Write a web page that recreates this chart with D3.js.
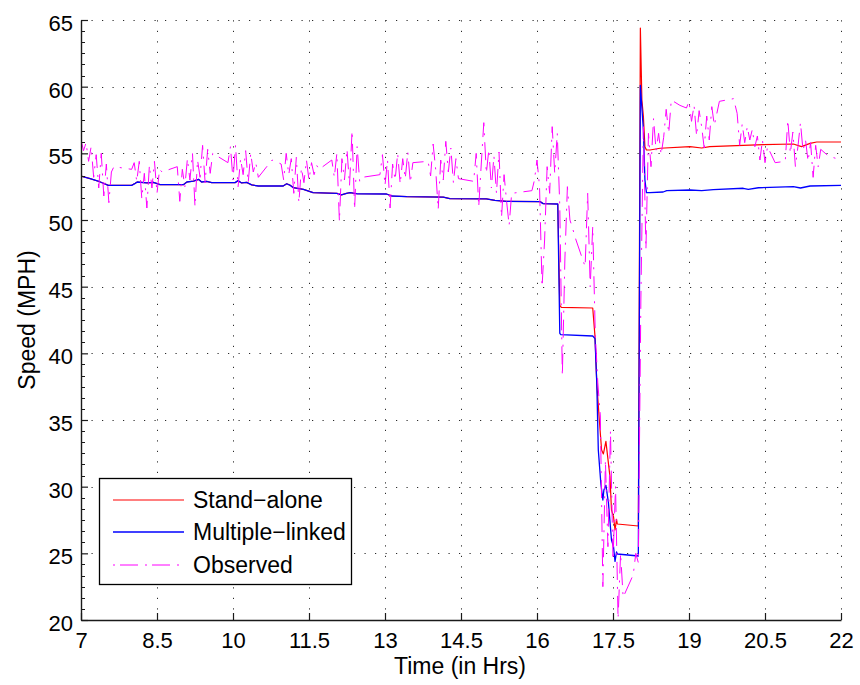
<!DOCTYPE html>
<html>
<head>
<meta charset="utf-8">
<script src="https://cdn.jsdelivr.net/npm/d3@7"></script>
<style>
  body { margin: 0; background: #fff; }
  svg { display: block; font-family: "Liberation Sans", Arial, Helvetica, sans-serif; }
</style>
</head>
<body>
<svg id="chart" width="860" height="685"></svg>
<script>
// ---- Axis ticks ----
const xTickValues = [7, 8.5, 10, 11.5, 13, 14.5, 16, 17.5, 19, 20.5, 22];
const yTickValues = [20, 25, 30, 35, 40, 45, 50, 55, 60, 65];

// ---- Model output, identical for both models until the slowdown ----
const sharedHours = [7.00, 7.18, 7.37, 7.54, 8.00, 8.07, 8.11, 8.30, 8.43, 8.56, 9.02, 9.09, 9.22, 9.32, 9.38, 9.48, 9.58,
  10.04, 10.10, 10.17, 10.27, 10.37, 10.50, 10.99, 11.06, 11.12, 11.19, 11.39, 11.58, 12.05, 12.14, 12.24, 12.31, 12.44,
  13.03, 13.13, 13.43, 14.15, 14.28, 15.00, 15.17, 15.40, 16.06, 16.12, 16.39, 16.41];
const sharedSpeed = [53.3, 53.1, 52.87, 52.6, 52.6, 52.75, 52.85, 52.78, 52.82, 52.65, 52.65, 52.85, 52.92, 53.05, 52.85, 52.9, 52.8,
  52.8, 52.95, 52.78, 52.82, 52.63, 52.55, 52.55, 52.72, 52.62, 52.43, 52.3, 52.05, 52.0, 51.88, 52.0, 52.05, 51.97,
  51.95, 51.8, 51.75, 51.72, 51.6, 51.58, 51.47, 51.4, 51.38, 51.23, 51.2, 51.2];

// ---- Stand-alone model after the slowdown begins ----
const standAloneHours = [16.45, 16.48, 17.10, 17.145, 17.18, 17.23, 17.275, 17.31, 17.36, 17.44, 17.47, 17.51, 17.54, 17.57, 17.585,
  18.00, 18.04, 18.07, 18.10, 18.13, 18.16, 18.23, 18.43, 19.02, 19.25, 19.41, 20.07, 20.47, 21.06, 21.22, 21.39, 21.52, 22.00];
const standAloneSpeed = [43.6, 43.45, 43.4, 41.25, 37.75, 35.0, 32.75, 32.45, 33.4, 30.75, 28.25, 27.75, 26.75, 27.55, 27.2,
  27.05, 64.4, 59.0, 57.75, 55.5, 55.25, 55.25, 55.38, 55.5, 55.4, 55.5, 55.6, 55.65, 55.7, 55.5, 55.75, 55.85, 55.85];

// ---- Multiple-linked model after the slowdown begins ----
const linkedHours = [16.45, 16.47, 17.10, 17.145, 17.18, 17.21, 17.26, 17.30, 17.32, 17.36, 17.41, 17.47, 17.51, 17.54, 17.57, 17.585,
  18.00, 18.04, 18.10, 18.13, 18.16, 18.23, 18.49, 18.56, 19.02, 19.25, 19.48, 20.07, 20.17, 20.37, 21.06, 21.20, 21.39, 22.00];
const linkedSpeed = [41.5, 41.4, 41.3, 41.1, 37.75, 32.75, 30.25, 29.0, 29.75, 30.1, 28.8, 26.0, 25.5, 24.4, 25.1, 24.95,
  24.8, 60.1, 56.75, 53.0, 52.05, 52.05, 52.1, 52.2, 52.25, 52.2, 52.28, 52.38, 52.3, 52.42, 52.5, 52.4, 52.55, 52.6];

// ---- Observed detector speeds: runs of 3-minute samples [first hour, speeds] ----
const OBS_STEP = 0.05;
const observedRuns = [
  [7.00, [56.0, 55.2, 55.8, 54.4, 55.5, 53.2, 54.9, 52.4, 55.0, 51.8, 54.2, 51.3, 53.6, 54.0]],
  [8.00, [53.8, 54.3, 52.9, 54.4, 51.6, 53.5, 50.9, 54.1, 52.4, 54.4, 52.0, 53.8, 53.6]],
  [8.90, [54.0, 51.4, 53.8, 52.5, 54.6, 53.0, 55.0, 51.0, 54.5, 53.2, 55.6, 52.8, 55.3, 53.5, 55.0]],
  [9.90, [54.3, 55.5, 53.0, 55.6, 52.5, 54.6, 53.4, 55.2, 52.8, 55.0, 53.6, 54.3, 53.2]],
  [10.77, [54.5]],
  [10.95, [54.2, 53.0, 55.0, 53.4, 54.6, 52.0, 54.7, 51.3, 53.9, 52.8, 54.5, 53.0, 54.3, 53.4, 54.1, 53.8]],
  [11.95, [54.5, 53.2, 55.0, 49.9, 54.6, 53.0, 55.3, 52.6, 56.7, 50.8, 55.5, 52.9, 53.2]],
  [12.90, [53.4, 54.9, 52.6, 54.5, 50.9, 54.2, 53.0, 55.0, 52.7, 54.6, 53.1, 55.1, 52.8, 54.3]],
  [13.85, [54.4, 53.3, 55.7, 53.8, 50.8, 54.5, 53.0, 55.9, 53.6, 55.4, 52.8, 54.6, 53.1]],
  [14.75, [52.9, 55.0, 51.0, 54.2, 57.3, 53.5, 55.3, 52.4, 54.8, 52.0, 55.1, 50.2, 53.4, 51.4, 49.6, 52.0]],
  [15.90, [52.2, 53.0, 54.5, 52.5, 45.0, 48.5, 54.0, 52.0, 57.0, 53.5, 56.5, 51.0, 38.3, 47.0, 52.5, 50.0, 49.4]],
  [16.77, [48.5]],
  [16.95, [46.5, 52.0, 45.0, 49.5, 41.5, 37.8, 35.3, 22.5, 32.0, 25.5, 34.2, 24.5, 30.0, 20.1, 25.0, 21.7]],
  [17.90, [23.4, 25.0, 24.3, 44.0, 57.0, 47.8, 56.5, 54.0, 57.6, 55.2, 56.5, 54.9, 56.2, 58.3, 56.5, 59.0]],
  [18.82, [58.6]],
  [18.95, [58.4, 58.9, 57.4, 58.6, 56.3, 58.2, 57.0, 55.4, 57.8, 56.0, 58.5, 57.1, 58.0, 58.9]],
  [19.88, [59.1]],
  [19.95, [58.0, 55.6, 57.2, 55.8, 57.0, 56.0, 56.8, 55.5, 56.3, 54.5, 56.0, 54.3, 55.5]],
  [20.70, [54.3]],
  [20.90, [54.4, 57.5, 55.0, 56.6, 54.0, 55.5, 57.3, 55.2, 56.0, 54.4, 55.8, 53.2, 55.6, 54.0, 55.3]],
  [21.75, [54.8]],
  [22.00, [54.5]]
];

const legendLabels = ["Stand\u2212alone", "Multiple\u2212linked", "Observed"];
const xTitle = "Time (in Hrs)";
const yTitle = "Speed (MPH)";

// ---- Layout ----
const plot = { left: 81, right: 841, top: 20, bottom: 620 };
const svg = d3.select("#chart");

const x = d3.scaleLinear().domain([7, 22]).range([plot.left, plot.right]);
const y = d3.scaleLinear().domain([20, 65]).range([plot.bottom, plot.top]);

const zip = (hs, vs) => hs.map((h, i) => [h, vs[i]]);
const sharedPts = zip(sharedHours, sharedSpeed);
const standAlone = sharedPts.concat(zip(standAloneHours, standAloneSpeed));
const linked = sharedPts.concat(zip(linkedHours, linkedSpeed));
const observed = [];
observedRuns.forEach(([h0, vals]) => vals.forEach((v, i) => observed.push([h0 + i * OBS_STEP, v])));

// ---- Dotted grid ----
const grid = svg.append("g").attr("stroke", "#2a2a2a").attr("stroke-width", 1)
  .attr("stroke-dasharray", "1.2,9.3").attr("fill", "none");
xTickValues.filter(d => d !== 7).forEach(d => {
  const px = Math.round(x(d)) + 0.5;
  grid.append("line").attr("x1", px).attr("x2", px).attr("y1", plot.bottom).attr("y2", plot.top);
});
yTickValues.filter(d => d !== 20).forEach(d => {
  const py = Math.round(y(d)) + 0.5;
  grid.append("line").attr("x1", plot.left).attr("x2", plot.right).attr("y1", py).attr("y2", py);
});

// ---- Series ----
svg.append("defs").append("clipPath").attr("id", "plotClip")
  .append("rect").attr("x", plot.left).attr("y", plot.top - 1)
  .attr("width", plot.right - plot.left + 1).attr("height", plot.bottom - plot.top + 1);

const line = d3.line().x(d => x(d[0])).y(d => y(d[1]));
const series = svg.append("g").attr("clip-path", "url(#plotClip)").attr("fill", "none");

series.append("path").datum(standAlone).attr("d", line)
  .attr("stroke", "#ff0000").attr("stroke-width", 1.2).attr("stroke-linejoin", "round");
series.append("path").datum(linked).attr("d", line)
  .attr("stroke", "#0000ff").attr("stroke-width", 1.3).attr("stroke-linejoin", "round");
series.append("path").datum(observed).attr("d", line)
  .attr("stroke", "#ff00ff").attr("stroke-width", 1)
  .attr("stroke-dasharray", "18,7,2,7");

// ---- Axes ----
const axisColor = "#1a1a1a";
const yAxis = svg.append("g").attr("transform", `translate(${plot.left},0)`)
  .call(d3.axisLeft(y).tickValues(yTickValues).tickSizeInner(-7).tickSizeOuter(0).tickPadding(8).tickFormat(d3.format("d")));
const xAxis = svg.append("g").attr("transform", `translate(0,${plot.bottom})`)
  .call(d3.axisBottom(x).tickValues(xTickValues).tickSizeInner(-7).tickSizeOuter(0).tickPadding(12).tickFormat(d => String(d)));

[xAxis, yAxis].forEach(g => {
  g.select(".domain").attr("stroke", axisColor).attr("stroke-width", 1.4);
  g.selectAll(".tick line").attr("stroke", axisColor).attr("stroke-width", 1.2);
  g.selectAll(".tick text").attr("fill", "#000").attr("font-size", 22)
    .attr("font-family", "'Liberation Sans', Arial, sans-serif");
});
yAxis.selectAll(".tick text").attr("dy", "0.48em");

// minor ticks along the speed axis
const minorY = d3.range(20, 65.001, 5 / 6).filter(v => Math.abs(v / 5 - Math.round(v / 5)) > 1e-6);
svg.append("g").selectAll("line").data(minorY).join("line")
  .attr("x1", plot.left).attr("x2", plot.left + 4)
  .attr("y1", d => Math.round(y(d)) + 0.5).attr("y2", d => Math.round(y(d)) + 0.5)
  .attr("stroke", axisColor).attr("stroke-width", 1);

// ---- Axis titles ----
svg.append("text").attr("x", 460).attr("y", 674).attr("text-anchor", "middle")
  .attr("font-size", 23).attr("fill", "#000").text(xTitle);
svg.append("text").attr("transform", "translate(35,320) rotate(-90)").attr("text-anchor", "middle")
  .attr("font-size", 23).attr("fill", "#000").text(yTitle);

// ---- Legend ----
const legend = svg.append("g");
legend.append("rect").attr("x", 99.5).attr("y", 478.5).attr("width", 252).attr("height", 106)
  .attr("fill", "#fff").attr("stroke", "#000").attr("stroke-width", 1.3);
const legendStyles = [
  { color: "#ff0000", dash: null, width: 1.2 },
  { color: "#0000ff", dash: null, width: 1.3 },
  { color: "#ff00ff", dash: "2,5,18,7", width: 1 }
];
const legendY = [500, 532, 565];
legendLabels.forEach((label, i) => {
  const s = legendStyles[i];
  legend.append("line").attr("x1", 113).attr("x2", 184).attr("y1", legendY[i]).attr("y2", legendY[i])
    .attr("stroke", s.color).attr("stroke-width", s.width).attr("stroke-dasharray", s.dash);
  legend.append("text").attr("x", 193).attr("y", legendY[i]).attr("dy", "0.36em")
    .attr("font-size", 23).attr("fill", "#000").text(label);
});
</script>
</body>
</html>
